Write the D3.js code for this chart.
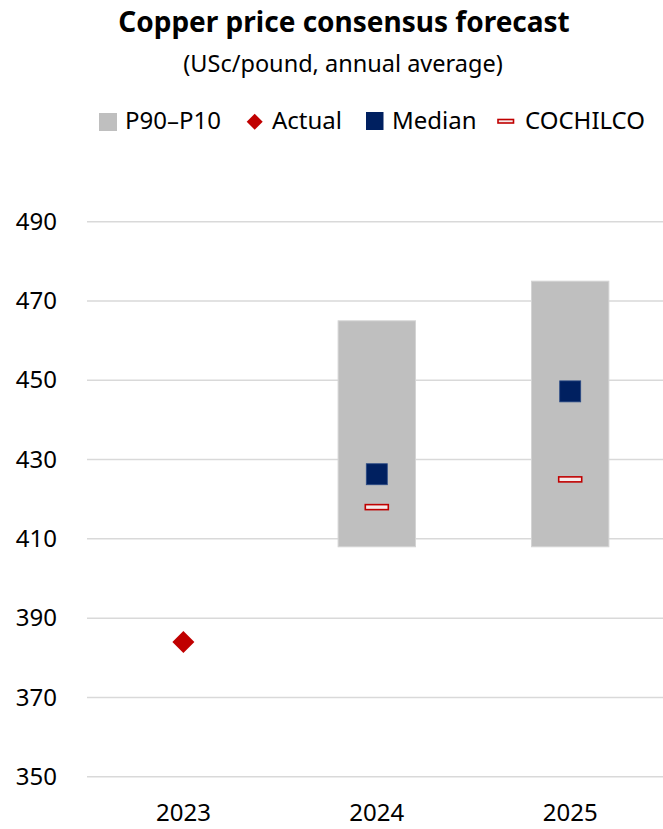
<!DOCTYPE html>
<html>
<head>
<meta charset="utf-8">
<script src="https://cdn.jsdelivr.net/npm/d3@7"></script>
<style>
  html, body { margin: 0; padding: 0; background: #fff; }
  svg { display: block; font-family: "Noto Sans", "Open Sans", sans-serif; }
</style>
</head>
<body>
<svg id="chart" width="663" height="829"></svg>
<script>
// Copper price consensus (USc/pound, annual average)
const years = ["2023", "2024", "2025"];
const rangeYears = ["2024", "2025"];
const p10 = [408, 408];          // low end of the P90–P10 range
const p90 = [465, 475];          // high end of the P90–P10 range
const medianValues = [426.3, 447.2];
const cochilcoValues = [418, 425];
const actualYears = ["2023"];
const actualValues = [384];
const yTicks = [350, 370, 390, 410, 430, 450, 470, 490];
const legendLabels = ["P90–P10", "Actual", "Median", "COCHILCO"];

const colors = {
  range: "#bfbfbf",
  actual: "#c00000",
  median: "#002060",
  cochilco: "#c00000",
  grid: "#d9d9d9",
  text: "#000000"
};

const svg = d3.select("#chart");

const x = d3.scaleBand().domain(years).range([86.7, 666.9]).paddingInner(0).paddingOuter(0);
const y = d3.scaleLinear().domain([350, 490]).range([776.7, 221.7]);

// Title and subtitle
svg.append("text")
  .attr("x", 344).attr("y", 32)
  .attr("text-anchor", "middle")
  .attr("font-size", 28).attr("font-weight", 700)
  .attr("fill", colors.text)
  .text("Copper price consensus forecast");
svg.append("text")
  .attr("x", 343).attr("y", 72)
  .attr("text-anchor", "middle")
  .attr("font-size", 23.5)
  .attr("fill", colors.text)
  .text("(USc/pound, annual average)");

// Gridlines and y-axis labels
const yAxis = d3.axisLeft(y).tickValues(yTicks).tickSize(0).tickPadding(0).tickFormat(d3.format("d"));
const yG = svg.append("g").attr("transform", "translate(57,0)").call(yAxis);
yG.select(".domain").remove();
yG.selectAll("text").attr("font-size", 24).attr("fill", colors.text).attr("font-family", "Noto Sans, sans-serif");

svg.append("g").selectAll("line").data(yTicks).join("line")
  .attr("x1", 87).attr("x2", 663)
  .attr("y1", d => y(d)).attr("y2", d => y(d))
  .attr("stroke", colors.grid).attr("stroke-width", 1.5);

// x-axis labels
const xAxis = d3.axisBottom(x).tickSize(0).tickPadding(0);
const xG = svg.append("g").attr("transform", "translate(0,804)").call(xAxis);
xG.select(".domain").remove();
xG.selectAll("text").attr("font-size", 24).attr("fill", colors.text).attr("font-family", "Noto Sans, sans-serif");

// P90–P10 range bars
const barW = x.bandwidth() * 0.4;
svg.append("g").selectAll("rect").data(rangeYears).join("rect")
  .attr("x", d => x(d) + (x.bandwidth() - barW) / 2)
  .attr("width", barW)
  .attr("y", (d, i) => y(p90[i]))
  .attr("height", (d, i) => y(p10[i]) - y(p90[i]))
  .attr("fill", colors.range)
  .attr("stroke", "#d4d4d4").attr("stroke-width", 1);

// Actual (diamond)
const cx = d => x(d) + x.bandwidth() / 2;
svg.append("g").selectAll("path").data(actualYears).join("path")
  .attr("transform", (d, i) => `translate(${cx(d)},${y(actualValues[i])})`)
  .attr("d", "M0,-11L11,0L0,11L-11,0Z")
  .attr("fill", colors.actual);

// COCHILCO (outlined dash)
svg.append("g").selectAll("rect").data(rangeYears).join("rect")
  .attr("x", d => cx(d) - 11.5)
  .attr("y", (d, i) => y(cochilcoValues[i]) - 2.5)
  .attr("width", 23).attr("height", 5)
  .attr("fill", "#f6eaea")
  .attr("stroke", colors.cochilco).attr("stroke-width", 1.6);

// Median (square)
svg.append("g").selectAll("rect").data(rangeYears).join("rect")
  .attr("x", d => cx(d) - 10.5)
  .attr("y", (d, i) => y(medianValues[i]) - 10.5)
  .attr("width", 21).attr("height", 21)
  .attr("fill", colors.median)
  .attr("stroke", "#2a4a85").attr("stroke-width", 0.8);

// Legend
const lg = svg.append("g");
const legendText = [125, 272, 392, 525];
lg.append("rect").attr("x", 99).attr("y", 113).attr("width", 18).attr("height", 18).attr("fill", colors.range);
lg.append("path").attr("transform", "translate(254.7,121.7)").attr("d", "M0,-8L8,0L0,8L-8,0Z").attr("fill", colors.actual);
lg.append("rect").attr("x", 366).attr("y", 112).attr("width", 17.5).attr("height", 18).attr("fill", colors.median);
lg.append("rect").attr("x", 498).attr("y", 119.5).attr("width", 15.5).attr("height", 3.5)
  .attr("fill", "#f6eaea").attr("stroke", colors.cochilco).attr("stroke-width", 1.6);
lg.selectAll("text").data(legendLabels).join("text")
  .attr("x", (d, i) => legendText[i]).attr("y", 128.5)
  .attr("font-size", 24).attr("fill", colors.text)
  .text(d => d);
</script>
</body>
</html>
